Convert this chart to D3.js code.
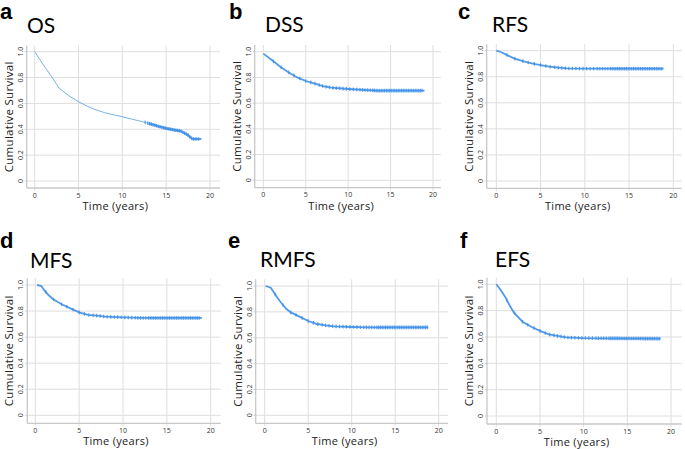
<!DOCTYPE html>
<html><head><meta charset="utf-8">
<script src="https://cdn.jsdelivr.net/npm/d3@7"></script>
<style>
html,body{margin:0;padding:0;background:#fff;}
svg{display:block;}
</style></head>
<body>
<svg id="c" width="685" height="449"></svg>
<script>
// ---------------- DATA ----------------
const panelLetters = ["a","b","c","d","e","f"];
const panelTitles = ["OS","DSS","RFS","MFS","RMFS","EFS"];
const xTicks = [0,5,10,15,20];
const yTicks = [0,0.2,0.4,0.6,0.8,1.0];
const yTickLabels = ["0","0.2","0.4","0.6","0.8","1.0"];
const xLabel = "Time (years)";
const yLabel = "Cumulative Survival";

const osTime = [0,1,2,2.8,4,5,6,7,8,9,10,11,12,13,14,15,16,16.6,17,17.5,17.8,18,19];
const osSurv = [1.0,0.897,0.80,0.717,0.655,0.613,0.578,0.55,0.528,0.512,0.497,0.48,0.464,0.446,0.425,0.407,0.394,0.388,0.374,0.355,0.335,0.325,0.325];

const dssTime = [0,1,2,3,4,5,6,7,8,10,12,13.5,19];
const dssSurv = [0.985,0.935,0.883,0.839,0.80,0.772,0.754,0.733,0.72,0.71,0.702,0.697,0.697];

const rfsTime = [0,0.5,1,2,3,4,5,6,7,8,10,18.9];
const rfsSurv = [1.0,0.99,0.974,0.941,0.92,0.903,0.89,0.877,0.87,0.864,0.862,0.862];

const mfsTime = [0.2,0.7,1,1.5,2,3,4,5,6,7,8,10,12,19];
const mfsSurv = [1.0,0.992,0.962,0.923,0.893,0.852,0.821,0.79,0.77,0.765,0.757,0.752,0.747,0.747];

const rmfsTime = [0.1,0.7,1,1.5,2,2.5,3,4,5,6,7,8,10,12,18.8];
const rmfsSurv = [1.0,0.987,0.956,0.905,0.861,0.822,0.796,0.763,0.729,0.706,0.696,0.688,0.683,0.68,0.68];

const efsTime = [0,0.5,1,1.5,2,3,4,5,6,7,8,10,12,18.8];
const efsSurv = [1.0,0.957,0.906,0.843,0.787,0.716,0.678,0.646,0.62,0.608,0.597,0.592,0.59,0.587];

// censoring times (shared follow-up)
const censorTimes = [1.2,2.1,3.0,3.6,4.3,5.0,5.6,6.1,6.6,7.0,7.4,7.8,8.2,8.6,9.0,9.4,9.8,10.2,10.6,11.0,11.4,11.7,12.0,12.3,12.6,12.9,13.1,13.3,13.5,13.7,13.9,14.1,14.3,14.5,14.7,14.9,15.1,15.3,15.5,15.7,15.9,16.1,16.3,16.5,16.7,16.9,17.1,17.3,17.5,17.7,17.9,18.1,18.3,18.5,18.7];

const seriesTimes = [osTime,dssTime,rfsTime,mfsTime,rmfsTime,efsTime];
const seriesSurv = [osSurv,dssSurv,rfsSurv,mfsSurv,rmfsSurv,efsSurv];

// ---------------- LAYOUT ----------------
const layout = [
  {lx:0,   ly:19,  tx:27,  ty:33,  L:26.7, T:45.7, R:220,   B:188,   x0:34.7,  x20:210,   y1:51.7, y0:181},
  {lx:229, ly:19,  tx:265, ty:32,  L:254.7,T:45,   R:441,   B:187.7, x0:263.3, x20:433,   y1:51.7, y0:180.3},
  {lx:458, ly:19,  tx:492, ty:32,  L:486.7,T:44.3, R:681.7, B:188.3, x0:496.3, x20:673.3, y1:50.7, y0:181},
  {lx:0,   ly:248, tx:30,  ty:268, L:27.3, T:278.3,R:220.7, B:423.3, x0:35.3,  x20:210.7, y1:285,  y0:415.3},
  {lx:228, ly:248, tx:260, ty:267, L:255.7,T:279.3,R:448,   B:423.3, x0:264.7, x20:438.7, y1:286,  y0:415.3},
  {lx:460, ly:248, tx:495, ty:267, L:487,  T:277.7,R:681.7, B:424,   x0:496.3, x20:671,   y1:284.3,y0:416}
];

const svg = d3.select("#c");
const gridCol = "#dedede";
const axisCol = "#c8c8c8";
const lineCol = "#3e8fe6";

layout.forEach((p,i)=>{
  const g = svg.append("g");
  const x = d3.scaleLinear().domain([0,20]).range([p.x0,p.x20]);
  const y = d3.scaleLinear().domain([0,1]).range([p.y0,p.y1]);

  // letter + title
  g.append("text").attr("x",p.lx).attr("y",p.ly).text(panelLetters[i])
    .attr("font-family","Liberation Sans, Arial, sans-serif").attr("font-weight","bold")
    .attr("font-size",22).attr("fill","#000");
  g.append("text").attr("x",p.tx).attr("y",p.ty).text(panelTitles[i])
    .attr("font-family","Lato, sans-serif").attr("font-size",21).attr("fill","#000");

  // gridlines
  g.selectAll(".hg").data(yTicks).enter().append("line")
    .attr("x1",p.L).attr("x2",p.R).attr("y1",d=>y(d)).attr("y2",d=>y(d))
    .attr("stroke",gridCol).attr("stroke-width",1);
  g.selectAll(".vg").data(xTicks).enter().append("line")
    .attr("x1",d=>x(d)).attr("x2",d=>x(d)).attr("y1",p.T).attr("y2",p.B+3)
    .attr("stroke",gridCol).attr("stroke-width",1);
  // axes lines
  g.append("line").attr("x1",p.L).attr("x2",p.L).attr("y1",p.T).attr("y2",p.B)
    .attr("stroke",axisCol).attr("stroke-width",1.3);
  g.append("line").attr("x1",p.L).attr("x2",p.R).attr("y1",p.B).attr("y2",p.B)
    .attr("stroke",axisCol).attr("stroke-width",1.3);
  // y tick marks
  g.selectAll(".yt").data(yTicks).enter().append("line")
    .attr("x1",p.L-2).attr("x2",p.L).attr("y1",d=>y(d)).attr("y2",d=>y(d))
    .attr("stroke",axisCol);

  // tick labels
  g.selectAll(".xl").data(xTicks).enter().append("text")
    .attr("x",d=>x(d)).attr("y",p.B+9.5).attr("text-anchor","middle")
    .attr("font-family","Open Sans, sans-serif").attr("font-size",7).attr("fill","#333")
    .text(d=>d);
  g.selectAll(".yl").data(yTicks).enter().append("text")
    .attr("transform",(d)=>`translate(${p.L-4},${y(d)}) rotate(-90)`)
    .attr("text-anchor","middle")
    .attr("font-family","Open Sans, sans-serif").attr("font-size",7).attr("fill","#333")
    .text((d,k)=>yTickLabels[k]);

  // axis titles
  g.append("text").attr("x",(p.x0+p.x20)/2-7).attr("y",p.B+22).attr("text-anchor","middle")
    .attr("font-family","Open Sans, sans-serif").attr("font-size",11).attr("fill","#222")
    .attr("letter-spacing",0.3).text(xLabel);
  g.append("text").attr("transform",`translate(${p.L-14},${(p.T+p.B)/2}) rotate(-90)`)
    .attr("text-anchor","middle")
    .attr("font-family","Open Sans, sans-serif").attr("font-size",11.5).attr("fill","#222")
    .attr("letter-spacing",0.3).text(yLabel);

  // curve
  const ts = seriesTimes[i], ss = seriesSurv[i];
  const pts = ts.map((t,k)=>[t,ss[k]]);
  const line = d3.line().x(d=>x(d[0])).y(d=>y(d[1]));
  g.append("path").datum(pts).attr("d",line).attr("fill","none")
    .attr("stroke",lineCol).attr("stroke-width", i===0?1:1.8)
    .attr("stroke-opacity", i===0?0.7:0.9);
  // censor marks
  const interp = t => {
    for (let k=1;k<ts.length;k++){ if (t<=ts[k]) { const f=(t-ts[k-1])/(ts[k]-ts[k-1]); return ss[k-1]+f*(ss[k]-ss[k-1]); } }
    return ss[ss.length-1];
  };
  const cts = censorTimes.filter(t=>t>=ts[0] && t<=ts[ts.length-1] && (i>0 || t>=12.5));
  g.selectAll(".cm").data(cts).enter().append("line")
    .attr("x1",d=>x(d)).attr("x2",d=>x(d))
    .attr("y1",d=>y(interp(d))-1.8).attr("y2",d=>y(interp(d))+1.8)
    .attr("stroke",lineCol).attr("stroke-width",1.2).attr("stroke-opacity",0.85);
  if (i===0) {
    const tail = pts.filter(d=>d[0]>=13);
    g.append("path").datum(tail).attr("d",line).attr("fill","none")
      .attr("stroke",lineCol).attr("stroke-width",2.2).attr("stroke-opacity",0.85);
  }
});
</script>
</body></html>
